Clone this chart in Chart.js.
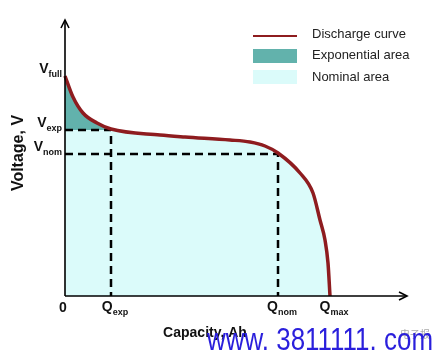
<!DOCTYPE html>
<html>
<head>
<meta charset="utf-8">
<script src="https://cdn.jsdelivr.net/npm/chart.js@4/dist/chart.umd.min.js"></script>
<style>
  html, body { margin: 0; padding: 0; background: #fff; }
  #wrap { width: 446px; height: 354px; }
</style>
</head>
<body>
<div id="wrap"><canvas id="chart" width="446" height="354"></canvas></div>
<script>
// discharge curve (capacity vs voltage, arbitrary units)
const capacity = [0, 8, 18, 32, 46, 95, 120, 165, 185, 200, 213, 235, 248, 255, 260, 263, 265];
const voltage = [220, 199, 183, 173, 167, 161, 159, 156, 154, 150, 143, 123, 103, 76, 56, 33, 0];

const qExp = 46, qNom = 213, qMax = 265;
const vFull = 220, vExp = 166, vNom = 142;

const xTicks = [0, qExp, qNom, qMax];
const xTickLabels = [['0', ''], ['Q', 'exp'], ['Q', 'nom'], ['Q', 'max']];
const yTicks = [vFull, vExp, vNom];
const yTickLabels = [['V', 'full'], ['V', 'exp'], ['V', 'nom']];

const legendLabels = ['Discharge curve', 'Exponential area', 'Nominal area'];

const RED = '#8e1c1f';
const TEAL = '#62b2ac';
const CYAN = '#dbfbfa';
const FONT = '"Liberation Sans", Arial, sans-serif';

const pts = (xs, ys) => xs.map((x, i) => ({ x, y: ys[i] }));
const curve = pts(capacity, voltage);
const expPart = curve.filter((p) => p.x <= qExp);

const arrowHead = (ctx, x, y, dir) => {
  ctx.beginPath();
  if (dir === 'up') {
    ctx.moveTo(x - 4, y + 8); ctx.lineTo(x, y); ctx.lineTo(x + 4, y + 8);
  } else {
    ctx.moveTo(x - 8, y - 4); ctx.lineTo(x, y); ctx.lineTo(x - 8, y + 4);
  }
  ctx.stroke();
};

const subLabel = (ctx, main, sub, x, y, align) => {
  ctx.font = `bold 14px ${FONT}`;
  const wm = ctx.measureText(main).width;
  ctx.font = `bold 9px ${FONT}`;
  const ws = ctx.measureText(sub).width;
  const w = wm + ws;
  let left = align === 'right' ? x - w : x - w / 2;
  ctx.textAlign = 'left';
  ctx.textBaseline = 'alphabetic';
  ctx.font = `bold 14px ${FONT}`;
  ctx.fillText(main, left, y);
  ctx.font = `bold 9px ${FONT}`;
  ctx.fillText(sub, left + wm, y + 4);
};

const decor = {
  id: 'decor',
  afterDatasetsDraw(chart) {
    const { ctx, chartArea: a, scales } = chart;
    const xs = scales.x, ys = scales.y;
    ctx.save();

    // axes with arrows
    ctx.strokeStyle = '#000';
    ctx.lineWidth = 1.6;
    ctx.beginPath();
    ctx.moveTo(a.left, a.bottom);
    ctx.lineTo(a.left, a.top);
    ctx.moveTo(a.left, a.bottom);
    ctx.lineTo(a.right, a.bottom);
    ctx.stroke();
    arrowHead(ctx, a.left, a.top, 'up');
    arrowHead(ctx, a.right, a.bottom, 'right');

    // tick labels
    ctx.fillStyle = '#111';
    xTicks.forEach((v, i) => {
      const [m, s] = xTickLabels[i];
      const px = xs.getPixelForValue(v);
      if (!s) subLabel(ctx, m, s, px - 2, a.bottom + 16, 'center');
      else subLabel(ctx, m, s, px + 4, a.bottom + 15, 'center');
    });
    yTicks.forEach((v, i) => {
      const [m, s] = yTickLabels[i];
      subLabel(ctx, m, s, a.left - 3, ys.getPixelForValue(v) - 3, 'right');
    });

    // axis titles
    ctx.font = `bold 14px ${FONT}`;
    ctx.textAlign = 'center';
    ctx.textBaseline = 'middle';
    ctx.fillText('Capacity, Ah', 205, 333);
    ctx.save();
    ctx.translate(19, 153);
    ctx.rotate(-Math.PI / 2);
    ctx.font = `bold 16px ${FONT}`;
    ctx.fillText('Voltage, V', 0, 0);
    ctx.restore();

    // legend
    const lx = 253, lw = 44, tx = 312;
    ctx.strokeStyle = RED;
    ctx.lineWidth = 2;
    ctx.beginPath();
    ctx.moveTo(lx, 36); ctx.lineTo(lx + lw, 36);
    ctx.stroke();
    ctx.fillStyle = TEAL;
    ctx.fillRect(lx, 49, lw, 14);
    ctx.fillStyle = CYAN;
    ctx.fillRect(lx, 70, lw, 14);
    ctx.fillStyle = '#222';
    ctx.font = `13px ${FONT}`;
    ctx.textAlign = 'left';
    ctx.textBaseline = 'middle';
    [34, 55, 77].forEach((y, i) => ctx.fillText(legendLabels[i], tx, y));

    // watermark
    ctx.fillStyle = '#aaa';
    ctx.font = `10px "Noto Sans CJK SC", sans-serif`;
    ctx.fillText('电子报', 400, 334);
    ctx.fillStyle = '#2a1fdc';
    ctx.font = `31px ${FONT}`;
    const wmText = 'www. 3811111. com';
    const ww = ctx.measureText(wmText).width;
    ctx.translate(207, 350);
    ctx.scale(226 / ww, 1);
    ctx.textBaseline = 'alphabetic';
    ctx.fillText(wmText, 0, 0);
    ctx.restore();
  },
};

new Chart(document.getElementById('chart'), {
  type: 'line',
  data: {
    datasets: [
      {
        label: legendLabels[0],
        data: curve,
        borderColor: RED,
        borderWidth: 3.5,
        pointRadius: 0,
        cubicInterpolationMode: 'monotone',
        fill: false,
        clip: false,
        order: 0,
      },
      {
        label: 'Vexp',
        data: [{ x: 0, y: vExp }, { x: qExp, y: vExp }, { x: qExp, y: 0 }],
        borderColor: '#000',
        borderWidth: 2.5,
        borderDash: [8, 5],
        pointRadius: 0,
        tension: 0,
        fill: false,
        order: 1,
      },
      {
        label: 'Vnom',
        data: [{ x: 0, y: vNom }, { x: qNom, y: vNom }, { x: qNom, y: 0 }],
        borderColor: '#000',
        borderWidth: 2.5,
        borderDash: [8, 5],
        pointRadius: 0,
        tension: 0,
        fill: false,
        order: 1,
      },
      {
        label: legendLabels[1],
        data: expPart,
        borderWidth: 0,
        borderColor: 'rgba(0,0,0,0)',
        backgroundColor: TEAL,
        pointRadius: 0,
        cubicInterpolationMode: 'monotone',
        fill: { value: vExp },
        order: 2,
      },
      {
        label: legendLabels[2],
        data: curve,
        borderWidth: 0,
        borderColor: 'rgba(0,0,0,0)',
        backgroundColor: CYAN,
        pointRadius: 0,
        cubicInterpolationMode: 'monotone',
        fill: 'origin',
        order: 3,
      },
    ],
  },
  options: {
    responsive: false,
    animation: false,
    layout: { padding: { left: 65, top: 20, right: 39, bottom: 58 } },
    plugins: { legend: { display: false }, tooltip: { enabled: false } },
    scales: {
      x: { type: 'linear', min: 0, max: 342, display: false },
      y: { type: 'linear', min: 0, max: 276, display: false },
    },
  },
  plugins: [decor],
});
</script>
</body>
</html>
